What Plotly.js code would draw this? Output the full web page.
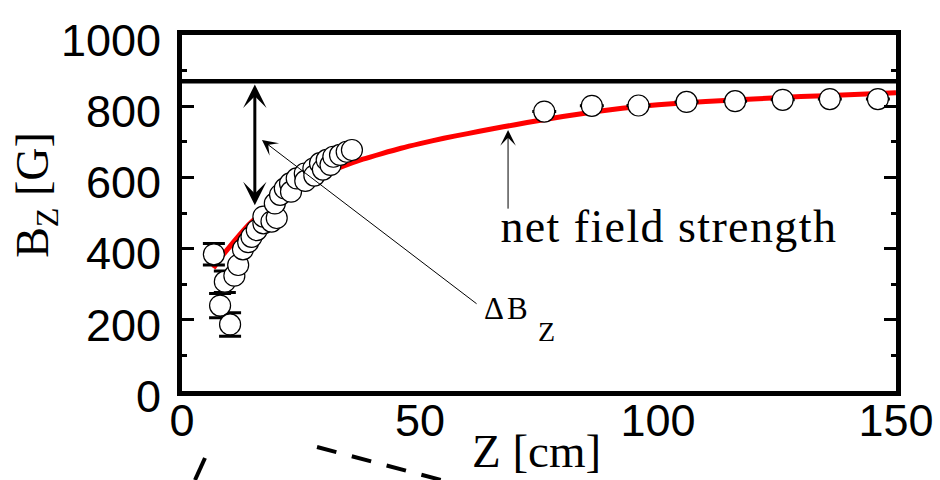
<!DOCTYPE html>
<html>
<head>
<meta charset="utf-8">
<script src="https://cdn.plot.ly/plotly-3.0.1.min.js"></script>
<style>
html,body{margin:0;padding:0;background:#fff;}
#chart{width:940px;height:480px;}
</style>
</head>
<body>
<div id="chart"></div>
<script>
// ---- data ----
// low-z points with large error bars
const zLow = [6.7, 9.0, 8.0, 10.1];
const bLow = [384, 307, 240, 187];
const errLow = [30, 30, 34, 33];

// dense cluster of measurements
const zMid = [11.0, 11.8, 12.8, 13.9, 14.6, 15.7, 17.1, 17.1, 18.8, 19.9, 19.5, 20.6, 21.6, 22.7, 22.9, 24.1, 25.8, 25.9, 27.6, 27.8, 29.0, 29.6, 30.4, 31.2, 31.8, 33.2, 34.6, 35.7];
const bMid = [324, 354, 398, 418, 433, 452, 471, 490, 476, 486, 527, 551, 569, 583, 560, 597, 611, 590, 625, 605, 640, 622, 649, 635, 658, 663, 672, 677];
const errMid = 14;

// far-field points
const zHigh = [76.1, 86.1, 95.9, 106.0, 116.2, 126.2, 136.1, 146.2];
const bHigh = [785, 801, 802, 812, 814, 818, 820, 820];

// red model curve
const zFit = [6.6, 8, 10, 12, 14, 16, 18, 20, 23, 26, 30, 34, 38, 42, 46, 50, 55, 60, 65, 70, 75, 80, 85, 90, 95, 100, 110, 120, 130, 140, 150];
const bFit = [345, 372, 405, 437, 467, 492, 515, 535, 561, 583, 610, 632, 651, 667, 682, 695, 710, 723, 736, 748, 760, 771, 781, 790, 798, 804, 813, 820, 827, 832, 838];

// net field strength level
const netZ = [0, 150];
const netB = [870, 870];

// axis ticks
const yTicks = [0, 200, 400, 600, 800, 1000];
const xTicks = [0, 50, 100, 150];

const tickFont = {family: 'Liberation Sans, Arial, sans-serif', size: 45, color: '#000'};
const serif = 'Liberation Serif, Times New Roman, serif';

const markerStyle = {symbol: 'circle', size: 21, color: '#fff', line: {color: '#000', width: 1.2}};

const traces = [
  {x: netZ, y: netB, mode: 'lines', line: {color: '#000', width: 4.5}, hoverinfo: 'skip', cliponaxis: false},
  {x: zFit, y: bFit, mode: 'lines', line: {color: '#ff0000', width: 5, shape: 'spline', smoothing: 0.6}, hoverinfo: 'skip'},
  {x: zLow, y: bLow, mode: 'markers', marker: markerStyle,
   error_y: {type: 'data', array: errLow, visible: true, color: '#000', thickness: 3, width: 11},
   cliponaxis: false},
  {x: zMid, y: bMid, mode: 'markers', marker: markerStyle,
   error_y: {type: 'constant', value: errMid, visible: true, color: '#000', thickness: 2.5, width: 6},
   cliponaxis: false},
  {x: zHigh, y: bHigh, mode: 'markers', marker: markerStyle,
   error_x: {type: 'constant', value: 2.2, visible: true, color: '#000', thickness: 3, width: 1.5},
   cliponaxis: false}
];

const layout = {
  width: 940, height: 480,
  margin: {l: 182, r: 44, t: 35, b: 89},
  paper_bgcolor: '#fff', plot_bgcolor: '#fff',
  showlegend: false,
  xaxis: {
    range: [0, 150], tickvals: xTicks, ticktext: xTicks.map(String),
    ticks: '', showgrid: false, zeroline: false,
    showline: true, linecolor: '#000', linewidth: 5, mirror: true,
    tickfont: tickFont, ticklabelstandoff: -14
  },
  yaxis: {
    range: [0, 1000], tickvals: yTicks, ticktext: yTicks.map(String),
    ticks: 'inside', ticklen: 12, tickwidth: 3, tickcolor: '#000',
    minor: {dtick: 100, ticks: 'inside', ticklen: 5, tickwidth: 3, tickcolor: '#000'},
    showgrid: false, zeroline: false,
    showline: true, linecolor: '#000', linewidth: 5, mirror: 'ticks',
    tickfont: tickFont, ticklabelstandoff: 7, ticklabelshift: 5
  },
  annotations: [
    // double-headed arrow showing delta B
    {x: 15.3, y: 522, ax: 15.3, ay: 865, xref: 'x', yref: 'y', axref: 'x', ayref: 'y',
     text: '', showarrow: true, arrowside: 'end+start', arrowhead: 3, startarrowhead: 3,
     arrowsize: 1.3, startarrowsize: 1.3, arrowwidth: 3, arrowcolor: '#000', standoff: 0, startstandoff: 0},
    // thin arrow from delta B label
    {x: 16.8, y: 705, ax: 62.2, ay: 242, xref: 'x', yref: 'y', axref: 'x', ayref: 'y',
     text: '', showarrow: true, arrowhead: 3, arrowsize: 2.6, arrowwidth: 1, arrowcolor: '#000', standoff: 0},
    {x: 63.7, y: 231, xref: 'x', yref: 'y', xanchor: 'left', yanchor: 'middle',
     text: 'ΔB', showarrow: false, font: {family: serif, size: 31, color: '#000'}},
    {x: 76.5, y: 168, xref: 'x', yref: 'y', xanchor: 'center', yanchor: 'middle',
     text: 'Z', showarrow: false, font: {family: serif, size: 28, color: '#000'}},
    // net field strength arrow + label
    {x: 68.5, y: 733, ax: 68.5, ay: 508, xref: 'x', yref: 'y', axref: 'x', ayref: 'y',
     text: '', showarrow: true, arrowhead: 3, arrowsize: 2.6, arrowwidth: 1, arrowcolor: '#000', standoff: 0},
    {x: 69.1, y: 461, xref: 'x', yref: 'y', xanchor: 'left', yanchor: 'middle',
     text: 'net field strength', showarrow: false, font: {family: serif, size: 46, color: '#000'}},
    // axis titles
    {x: -0.204, y: 0.552, xref: 'paper', yref: 'paper', xanchor: 'center', yanchor: 'middle',
     text: 'B<sub>Z</sub> [G]', textangle: -90, showarrow: false, font: {family: serif, size: 46, color: '#000'}},
    {x: 0.497, y: -0.1685, xref: 'paper', yref: 'paper', xanchor: 'center', yanchor: 'middle',
     text: 'Z [cm]', showarrow: false, font: {family: serif, size: 47, color: '#000'}}
  ],
  shapes: [
    {type: 'line', xref: 'paper', yref: 'paper', x0: 0.0182, y0: -0.2500, x1: 0.0322, y1: -0.1882,
     line: {color: '#000', width: 4}},
    {type: 'line', xref: 'paper', yref: 'paper', x0: 0.1891, y0: -0.1573, x1: 0.3683, y1: -0.2528,
     line: {color: '#000', width: 4, dash: '20px,16px'}}
  ]
};

Plotly.newPlot('chart', traces, layout, {displayModeBar: false, staticPlot: true}).then(function () {
  document.querySelectorAll('#chart .annotation-text').forEach(function (t) {
    if (t.textContent === 'net field strength') t.style.letterSpacing = '1.4px';
    if (t.textContent === 'ΔB') t.style.letterSpacing = '3px';
  });
});
</script>
</body>
</html>
